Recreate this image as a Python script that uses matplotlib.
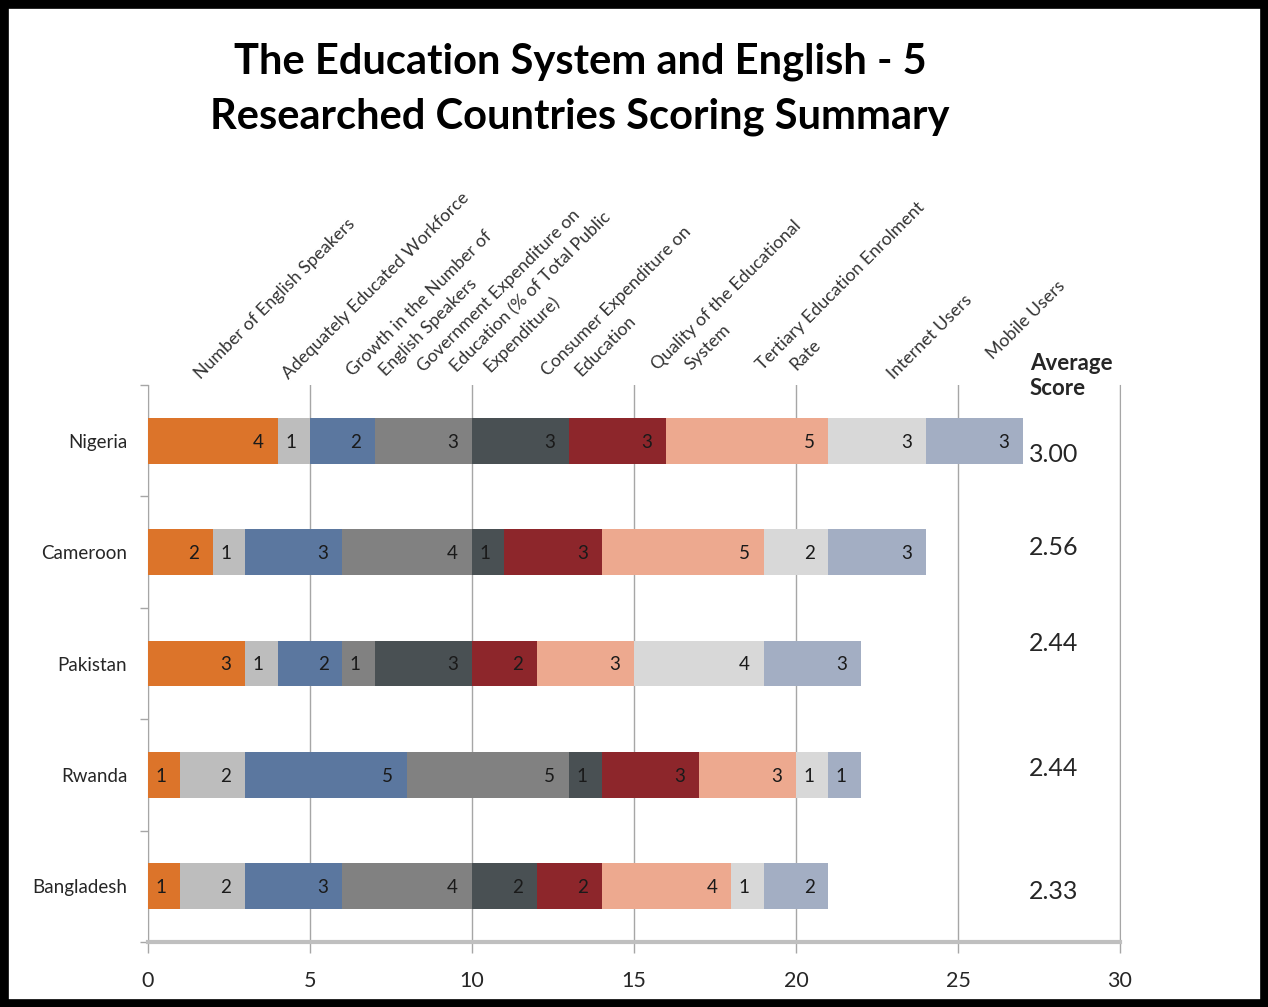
import matplotlib
matplotlib.use("Agg")
import matplotlib.pyplot as plt
import numpy as np
from matplotlib.patches import Rectangle

# ---------------- data ----------------
countries = ["Nigeria", "Cameroon", "Pakistan", "Rwanda", "Bangladesh"]
indicators = [
    "Number of English Speakers",
    "Adequately Educated Workforce",
    "Growth in the Number of\nEnglish Speakers",
    "Government Expenditure on\nEducation (% of Total Public\nExpenditure)",
    "Consumer Expenditure on\nEducation",
    "Quality of the Educational\nSystem",
    "Tertiary Education Enrolment\nRate",
    "Internet Users",
    "Mobile Users",
]
number_of_english_speakers = [4, 2, 3, 1, 1]
adequately_educated_workforce = [1, 1, 1, 2, 2]
growth_english_speakers = [2, 3, 2, 5, 3]
government_expenditure = [3, 4, 1, 5, 4]
consumer_expenditure = [3, 1, 3, 1, 2]
quality_education = [3, 3, 2, 3, 2]
tertiary_enrolment = [5, 5, 3, 3, 4]
internet_users = [3, 2, 4, 1, 1]
mobile_users = [3, 3, 3, 1, 2]
average_scores = ["3.00", "2.56", "2.44", "2.44", "2.33"]
x_ticks = [0, 5, 10, 15, 20, 25, 30]

series = [number_of_english_speakers, adequately_educated_workforce,
          growth_english_speakers, government_expenditure, consumer_expenditure,
          quality_education, tertiary_enrolment, internet_users, mobile_users]

# ---------------- style ----------------
colors = ["#DC742A", "#BDBDBD", "#5B779F", "#818181", "#495053",
          "#8D262B", "#EDA98F", "#D8D8D8", "#A3AEC3"]
# header label first-line start points (figure pixels, y from top) - layout only
header_start = [(201, 380), (289, 380), (353, 377), (424, 373), (548, 377),
                (658, 371), (763, 371), (894, 380), (993, 360)]
line_step_px = 33
avg_dy = [0.12, -0.04, -0.18, -0.06, 0.05]

plt.rcParams["font.family"] = ["Lato", "DejaVu Sans"]

W, H = 1268, 1007
fig = plt.figure(figsize=(W / 100, H / 100), dpi=100)
fig.patch.set_facecolor("white")

left, right, top, bottom = 148, 1120, 385, 942
ax = fig.add_axes([left / W, 1 - bottom / H, (right - left) / W, (bottom - top) / H])

y = np.arange(len(countries))
cum = np.zeros(len(countries))
for vals, col in zip(series, colors):
    vals = np.array(vals, dtype=float)
    ax.barh(y, vals, left=cum, height=0.41, color=col, zorder=3)
    for yi, (l, v) in enumerate(zip(cum, vals)):
        ax.annotate(f"{int(v)}", xy=(l + v, yi), xytext=(-10, -1),
                    textcoords="offset points", ha="right", va="center",
                    fontsize=13.5, color="#1a1a1a", zorder=4)
    cum += vals

ax.set_xlim(0, 30)
ax.set_ylim(len(countries) - 0.5, -0.5)
ax.set_xticks(x_ticks)
ax.set_xticklabels([str(t) for t in x_ticks])
ax.set_yticks(y)
ax.set_yticklabels(countries)
ax.set_yticks(np.arange(-0.5, len(countries), 1.0), minor=True)

ax.tick_params(axis="x", length=8, color="#A6A6A6", width=1, pad=13,
               labelsize=15.5, labelcolor="#262626")
ax.tick_params(axis="y", which="major", length=0, pad=15, labelsize=13.5,
               labelcolor="#262626")
ax.tick_params(axis="y", which="minor", length=6, color="#A6A6A6", width=1)

ax.grid(axis="x", color="#A6A6A6", linewidth=1, zorder=0)
ax.set_axisbelow(True)
ax.spines["top"].set_visible(False)
ax.spines["right"].set_color("#A6A6A6")
ax.spines["left"].set_color("#A6A6A6")
ax.spines["bottom"].set_color("#BFBFBF")
ax.spines["bottom"].set_linewidth(3)

# average score column
for yi, (txt, dy) in enumerate(zip(average_scores, avg_dy)):
    ax.text(27.2, yi + dy, txt, ha="left", va="center", fontsize=18,
            color="#262626")
fig.text(1030 / W, 1 - 376 / H, "Average\nScore", ha="left", va="center",
         fontsize=16, fontweight="bold", color="#262626", linespacing=1.25)

# header labels: each line starts on the same horizontal baseline
for lab, (px, py) in zip(indicators, header_start):
    for k, line in enumerate(lab.split("\n")):
        fig.text((px + k * line_step_px) / W, 1 - py / H, line, rotation=45,
                 rotation_mode="anchor", ha="left", va="baseline",
                 fontsize=12.8, color="#333333")

# title
fig.text(580 / W, 1 - 62 / H, "The Education System and English - 5",
         ha="center", va="center", fontsize=30, fontweight="bold", color="black")
fig.text(580 / W, 1 - 117 / H, "Researched Countries Scoring Summary",
         ha="center", va="center", fontsize=30, fontweight="bold", color="black")

# frame
fig.add_artist(Rectangle((0, 0), 1, 1, transform=fig.transFigure, fill=False,
                         edgecolor="black", linewidth=12))

fig.savefig("out.png", dpi=100)
